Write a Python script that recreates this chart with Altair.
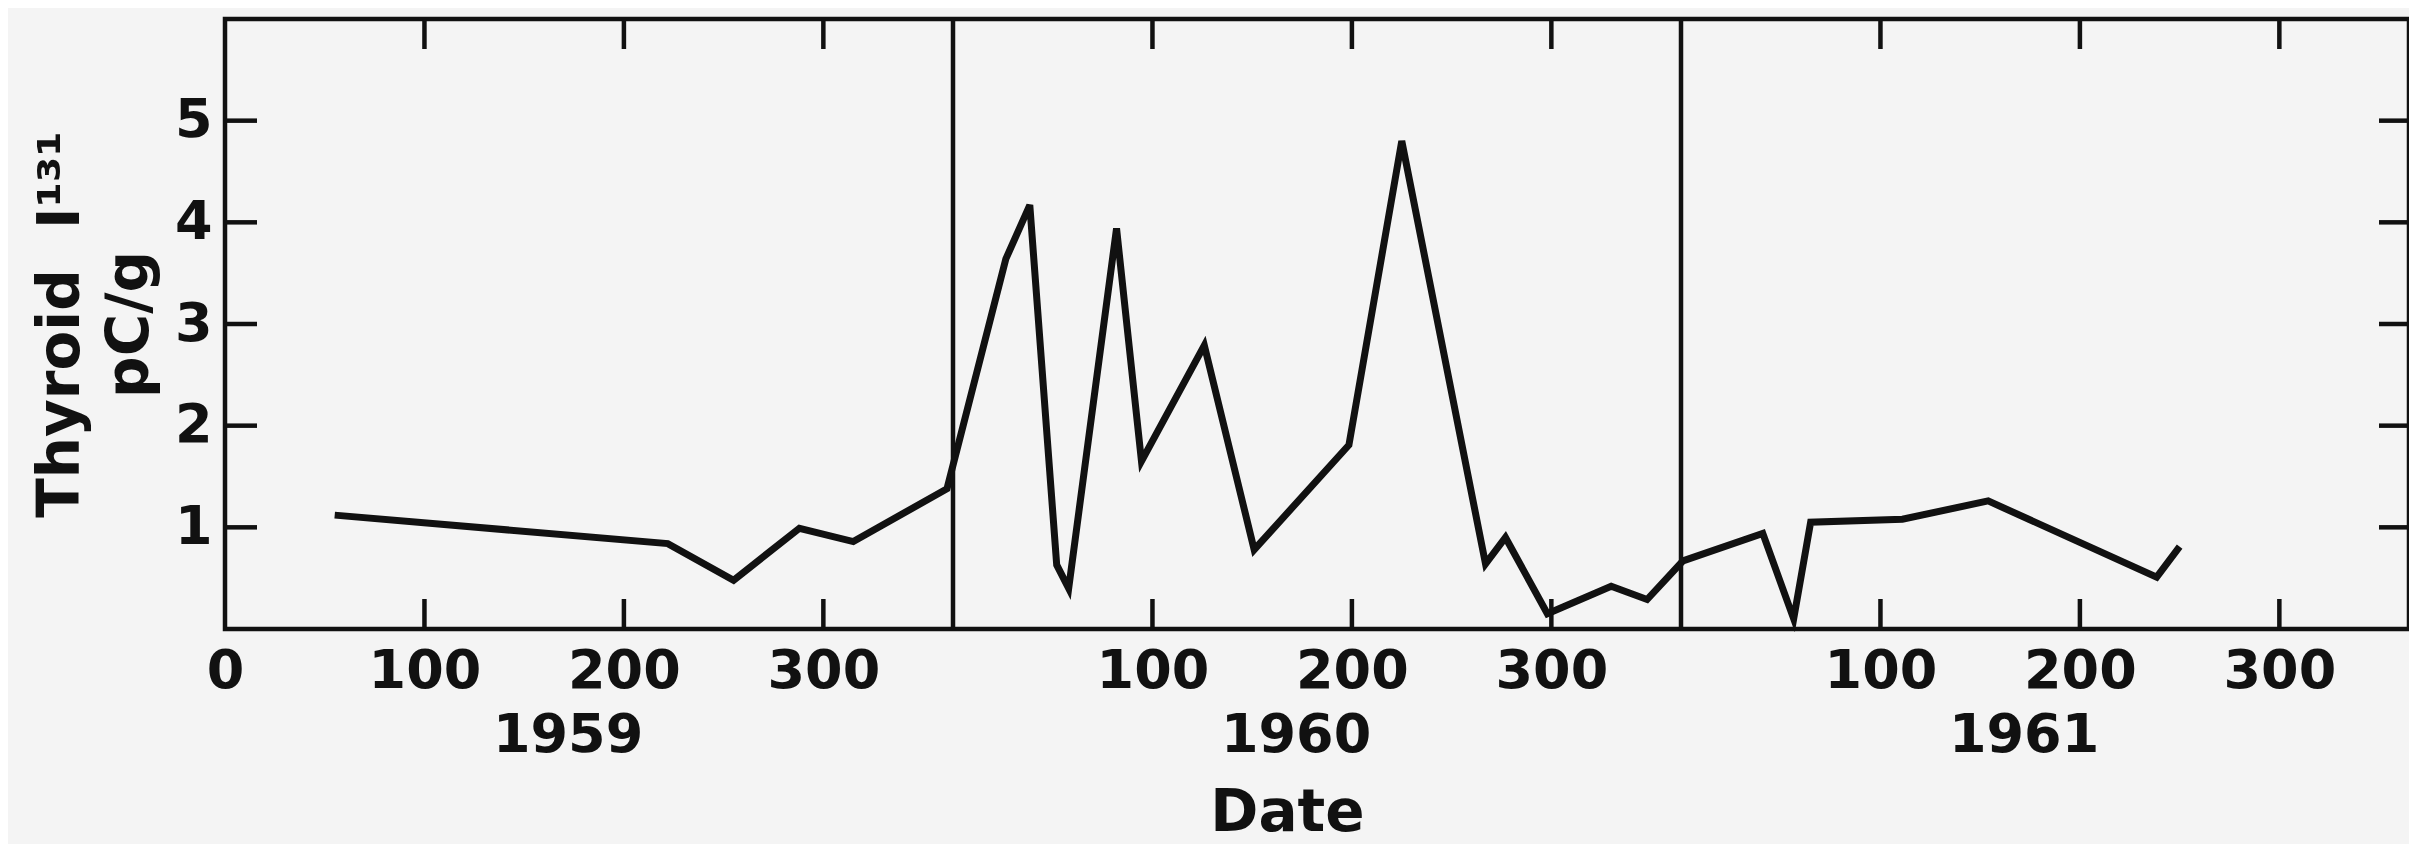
import altair as alt
import pandas as pd

# ---- data ----
years = [1959] * 6 + [1960] * 15 + [1961] * 8
day_of_year = [55, 222, 255, 288, 315, 362,
               26.5, 38.5, 52, 58, 82, 94.5, 126, 151, 198.5, 225, 267, 277, 298, 330, 348,
               1, 41, 56.5, 65, 111, 154, 238.5, 250]
thyroid = [1.12, 0.84, 0.48, 0.99, 0.86, 1.38,
           3.64, 4.17, 0.63, 0.40, 3.94, 1.65, 2.79, 0.78, 1.81, 4.80, 0.64, 0.90, 0.15, 0.42, 0.29,
           0.67, 0.94, 0.10, 1.05, 1.08, 1.26, 0.51, 0.81]

year_list = [1959, 1960, 1961]
year_labels = ["1959", "1960", "1961"]
days_per_year = 365
tick_days = [100, 200, 300]
y_ticks = [1, 2, 3, 4, 5]
y_title = ["Thyroid\u00a0\u00a0I\u00b9\u00b3\u00b9", "pC/g"]

# ---- layout / style ----
W, H = 2184, 610
INK = "#111111"
FONT = "DejaVu Sans"
LABEL_SIZE = 54
TITLE_SIZE = 58
TICK_LEN = 30

x_total = days_per_year * len(year_list)

df = pd.DataFrame({"year": years, "doy": day_of_year, "value": thyroid})
df["x"] = (df["year"] - year_list[0]) * days_per_year + df["doy"]

tick_x = [i * days_per_year + d for i in range(len(year_list)) for d in tick_days]
ticks_df = pd.DataFrame({"x": tick_x})
div_df = pd.DataFrame({"x": [i * days_per_year for i in range(1, len(year_list))]})
yt_df = pd.DataFrame({"value": y_ticks})
yl_df = pd.DataFrame({"label": year_labels,
                      "x": [i * days_per_year + 172 for i in range(len(year_list))]})

xscale = alt.Scale(domain=[0, x_total], nice=False, zero=False)
yscale = alt.Scale(domain=[0, 6], nice=False)

x_axis = alt.Axis(
    values=[0] + tick_x,
    labelExpr="'' + (datum.value % 365)",
    ticks=False, tickSize=0, domain=False, grid=False,
    labelPadding=15, labelFontSize=LABEL_SIZE, labelFont=FONT, labelFontWeight="bold",
    labelColor=INK, labelFlush=False, labelOverlap=False,
    title="Date", titleFont=FONT, titleFontSize=TITLE_SIZE, titleFontWeight="bold",
    titleColor=INK, titleBaseline="top", titleAlign="center", titleX=1062, titleY=155,
)
y_axis = alt.Axis(
    values=y_ticks,
    ticks=False, tickSize=0, domain=False, grid=False,
    labelPadding=13, labelFontSize=LABEL_SIZE, labelFont=FONT, labelFontWeight="bold",
    labelColor=INK,
    title=y_title,
    titleFont=FONT, titleFontSize=TITLE_SIZE, titleFontWeight="bold", titleColor=INK,
    titleAngle=270, titleBaseline="bottom", titleAlign="center",
    titleX=-135, titleY=H / 2, titleLineHeight=69,
)

X = lambda: alt.X("x:Q", scale=xscale, axis=x_axis, title="Date")
Y = lambda: alt.Y("value:Q", scale=yscale, axis=y_axis, title=y_title)

line = alt.Chart(df).mark_line(color=INK, strokeWidth=7, strokeJoin="miter").encode(
    x=X(),
    y=Y(),
    order="x:Q",
)

rule_style = dict(color=INK, strokeWidth=4.5)

dividers = alt.Chart(div_df).mark_rule(**rule_style).encode(
    x=X(), y=alt.value(0), y2=alt.value(H),
)
top_ticks = alt.Chart(ticks_df).mark_rule(**rule_style).encode(
    x=X(), y=alt.value(0), y2=alt.value(TICK_LEN),
)
bottom_ticks = alt.Chart(ticks_df).mark_rule(**rule_style).encode(
    x=X(), y=alt.value(H - TICK_LEN), y2=alt.value(H),
)
left_ticks = alt.Chart(yt_df).mark_rule(**rule_style).encode(
    y=Y(), x=alt.value(0), x2=alt.value(TICK_LEN + 2),
)
right_ticks = alt.Chart(yt_df).mark_rule(**rule_style).encode(
    y=Y(), x=alt.value(W - TICK_LEN), x2=alt.value(W),
)
year_text = alt.Chart(yl_df).mark_text(
    font=FONT, fontSize=LABEL_SIZE, fontWeight="bold", color=INK,
    align="center", baseline="top",
).encode(
    x=X(),
    y=alt.value(H + 80),
    text="label:N",
)

chart = alt.layer(
    line, dividers, top_ticks, bottom_ticks, left_ticks, right_ticks, year_text
).properties(
    width=W, height=H,
    autosize=alt.AutoSizeParams(type="none"),
    padding={"left": 217, "top": 11, "right": 0, "bottom": 215},
    background="#f4f4f4",
).configure_view(
    stroke=INK, strokeWidth=4.5,
)

chart.save("out.html", embed_options={"renderer": "svg", "actions": False})
